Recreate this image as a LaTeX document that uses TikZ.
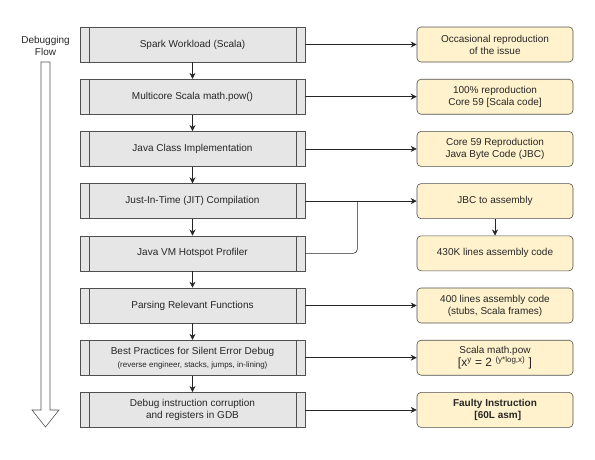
\documentclass[tikz,border=0pt]{standalone}
\usepackage{fontspec}
\setmainfont{Liberation Sans}
\usetikzlibrary{arrows.meta,positioning}

\definecolor{stepgray}{HTML}{E6E6E6}
\definecolor{notefill}{HTML}{FFF2CC}
\definecolor{linegray}{HTML}{505050}
\definecolor{textgray}{HTML}{262626}

\begin{document}
\begin{tikzpicture}[
            x = 1pt, y = 1pt,
            > = {Stealth[length=6pt,width=6pt]}, % arrow head style
            node distance = 52.2pt, % distance between step centres
            font = \fontsize{10}{12}\selectfont,
            text = textgray,
            semithick % line style
        ]

        \tikzstyle{stepbox}=[
            draw = linegray,
            fill = stepgray,
            minimum width = 225pt,
            minimum height = 35pt,
            align = center,
            path picture = {
                \draw[linegray] ([xshift=9pt]path picture bounding box.north west) -- ([xshift=9pt]path picture bounding box.south west);
                \draw[linegray] ([xshift=-9pt]path picture bounding box.north east) -- ([xshift=-9pt]path picture bounding box.south east);
            }
        ]
        \tikzstyle{note}=[
            draw = linegray,
            fill = notefill,
            rounded corners = 4pt,
            minimum width = 156pt,
            minimum height = 35pt,
            align = center
        ]
        \tikzstyle{link}=[->, draw = textgray]

        \useasboundingbox (0,0) rectangle (595,-459);

        % flow of steps
        \node[stepbox] (s1) at (192.5,-44.5) {Spark Workload (Scala)};
        \node[stepbox] (s2) [below of=s1] {Multicore Scala math.pow()};
        \node[stepbox] (s3) [below of=s2] {Java Class Implementation};
        \node[stepbox] (s4) [below of=s3] {Just-In-Time (JIT) Compilation};
        \node[stepbox] (s5) [below of=s4] {Java VM Hotspot Profiler};
        \node[stepbox] (s6) [below of=s5] {Parsing Relevant Functions};
        \node[stepbox] (s7) [below of=s6] {Best Practices for Silent Error Debug\\[1pt]{\fontsize{8}{10}\selectfont (reverse engineer, stacks, jumps, in-lining)}};
        \node[stepbox] (s8) [below of=s7] {Debug instruction corruption\\and registers in GDB};

        % results
        \node[note] (r1) [right of=s1, node distance=302.5pt] {Occasional reproduction\\of the issue};
        \node[note] (r2) [right of=s2, node distance=302.5pt] {100\% reproduction\\Core 59 [Scala code]};
        \node[note] (r3) [right of=s3, node distance=302.5pt] {Core 59 Reproduction\\Java Byte Code (JBC)};
        \node[note] (r4) [right of=s4, node distance=302.5pt] {JBC to assembly};
        \node[note] (r5) [right of=s5, node distance=302.5pt] {430K lines assembly code};
        \node[note] (r6) [right of=s6, node distance=302.5pt] {400 lines assembly code\\(stubs, Scala frames)};
        \node[note] (r7) [right of=s7, node distance=302.5pt] {Scala math.pow\\{\fontsize{12}{13}\selectfont [x\textsuperscript{y} = 2 \textsuperscript{(y*log,x)}~]}};
        \node[note, font=\fontsize{10}{12}\selectfont\bfseries] (r8) [right of=s8, node distance=302.5pt] {Faulty Instruction\\~~[60L asm]};

        % debugging flow arrow
        \node[align=center] (flow) at (45.5,-45.5) {Debugging\\Flow};
        \draw[linegray, fill=white] (41,-62) -- (50,-62) -- (50,-410) -- (59,-410) -- (45.5,-427)
            -- (32,-410) -- (41,-410) -- cycle;

        \draw[link] (s1) -- (s2);
        \draw[link] (s2) -- (s3);
        \draw[link] (s3) -- (s4);
        \draw[link] (s4) -- (s5);
        \draw[link] (s5) -- (s6);
        \draw[link] (s6) -- (s7);
        \draw[link] (s7) -- (s8);

        \draw[link] (s1) -- (r1);
        \draw[link] (s2) -- (r2);
        \draw[link] (s3) -- (r3);
        \draw[link] (s4) -- (r4);
        \coordinate (split) at ([xshift=52pt]s4.east);
        \draw[draw=textgray, rounded corners=4pt] (s5.east) -| (split);
        \draw[link] (r4) -- (r5);
        \draw[link] (s6) -- (r6);
        \draw[link] (s7) -- (r7);
        \draw[link] (s8) -- (r8);

    \end{tikzpicture}
\end{document}
